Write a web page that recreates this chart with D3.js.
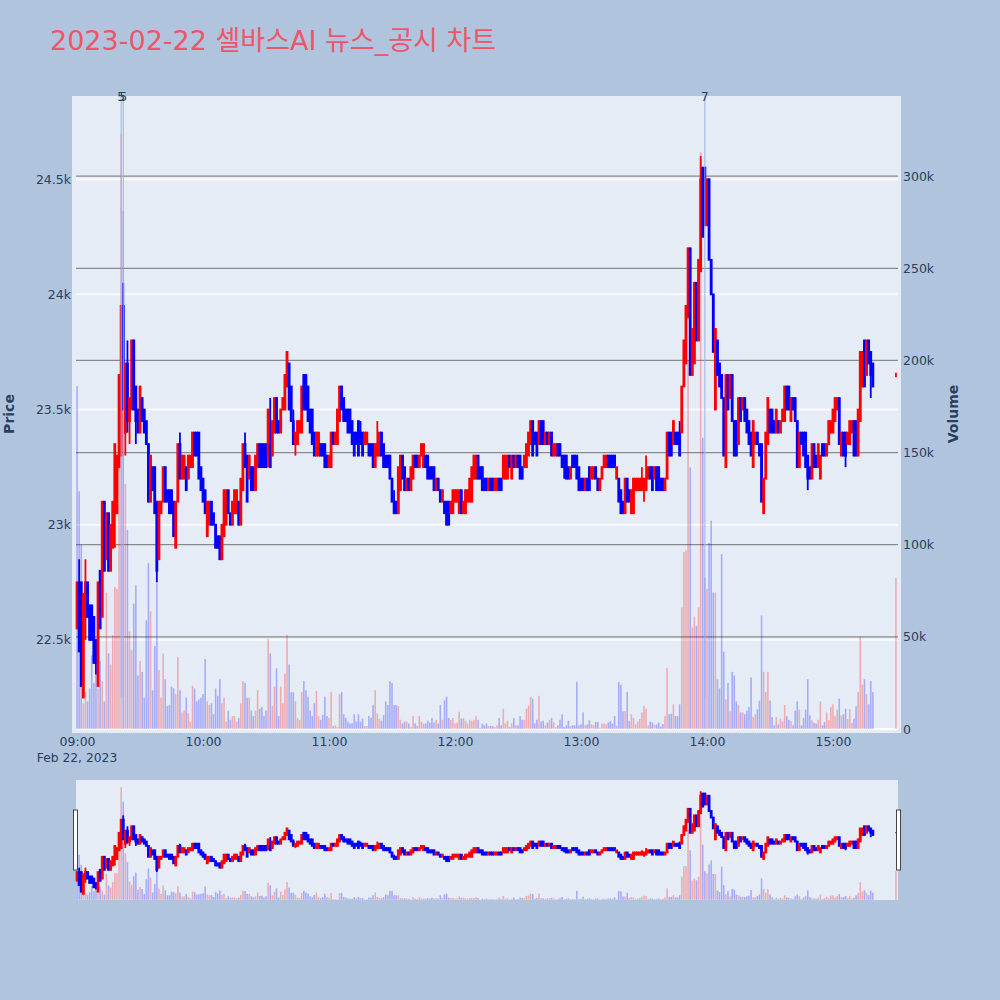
<!DOCTYPE html>
<html>
<head>
<meta charset="utf-8">
<script src="https://cdn.jsdelivr.net/npm/d3@7"></script>
<style>
  html, body { margin: 0; padding: 0; background: #B0C4DE; }
  text { font-family: "DejaVu Sans", "Noto Sans CJK KR", sans-serif; fill: #2a3f5f; }
</style>
</head>
<body>
<div id="chart"></div>
<script>
// 분봉 데이터 (09:00 ~ 15:19, 마지막은 15:30 종가)
const minutes = d3.range(380).concat([390]);

const open = [
22550,22750,22750,22250,22600,22750,22650,22650,22600,22500,
22300,22800,22600,23100,22850,23050,22800,22900,23050,23050,
23250,23300,23950,23400,23700,23450,23500,23800,23600,23500,
23400,23550,23500,23450,23350,23100,23250,23250,23100,22850,
23050,23100,23250,23150,23150,23150,23100,22900,23100,23350,
23200,23200,23250,23200,23250,23250,23400,23400,23400,23250,
23200,23150,22950,23000,23100,23050,23000,22950,22950,22850,
22950,23000,23150,23050,23000,23050,23050,23100,23000,23150,
23350,23300,23200,23250,23250,23150,23250,23350,23350,23350,
23350,23300,23350,23300,23400,23550,23450,23400,23500,23500,
23600,23700,23600,23450,23350,23350,23400,23400,23650,23650,
23600,23500,23500,23400,23300,23300,23350,23350,23350,23300,
23250,23250,23400,23350,23350,23450,23600,23550,23500,23500,
23500,23450,23400,23400,23450,23400,23400,23350,23350,23350,
23350,23350,23250,23300,23300,23400,23350,23300,23300,23300,
23200,23100,23100,23050,23150,23300,23250,23150,23200,23150,
23200,23300,23300,23250,23300,23250,23300,23300,23250,23250,
23250,23150,23200,23150,23100,23100,23100,23100,23050,23050,
23100,23100,23050,23150,23050,23050,23100,23100,23100,23200,
23200,23300,23250,23250,23200,23200,23150,23200,23200,23150,
23150,23200,23200,23200,23200,23200,23300,23200,23300,23250,
23300,23300,23250,23250,23250,23300,23350,23450,23400,23400,
23350,23450,23450,23350,23400,23350,23400,23300,23300,23350,
23350,23300,23300,23300,23250,23200,23300,23300,23300,23250,
23200,23200,23150,23200,23250,23200,23200,23250,23200,23150,
23200,23250,23250,23300,23300,23300,23300,23200,23200,23150,
23100,23050,23200,23150,23050,23050,23150,23150,23150,23150,
23150,23150,23200,23250,23250,23200,23250,23250,23200,23200,
23150,23200,23400,23400,23350,23400,23400,23400,23400,23600,
23700,23900,24200,23650,23700,24050,23800,24100,24550,24550,
24300,24500,24150,24000,23500,23800,23700,23650,23550,23250,
23650,23550,23650,23450,23450,23350,23550,23500,23550,23500,
23450,23400,23250,23350,23400,23350,23350,23050,23200,23350,
23500,23500,23450,23400,23450,23400,23450,23450,23600,23600,
23450,23550,23550,23450,23250,23400,23400,23400,23300,23250,
23200,23350,23300,23250,23200,23350,23350,23300,23350,23400,
23400,23450,23500,23550,23300,23400,23400,23350,23350,23400,
23450,23450,23300,23450,23600,23800,23650,23800,23750,23700,
23650];

const close = [
22750,22450,22300,22700,22750,22600,22500,22500,22400,22400,
22750,22550,23100,22800,23050,22800,23000,23100,23350,23300,
23650,23950,23500,23700,23450,23550,23800,23500,23450,23400,
23600,23450,23400,23350,23100,23300,23150,23050,22800,23100,
23100,23250,23100,23100,23050,23050,22950,23100,23350,23200,
23300,23300,23150,23300,23300,23400,23300,23300,23200,23150,
23100,23050,23100,23100,23000,23000,22900,22900,22850,23000,
23150,23150,23050,23000,23100,23150,23150,23000,23200,23350,
23250,23100,23300,23150,23150,23300,23350,23250,23250,23250,
23250,23500,23250,23450,23550,23400,23400,23500,23550,23650,
23750,23500,23450,23350,23400,23450,23450,23600,23500,23500,
23450,23400,23350,23300,23400,23400,23300,23300,23250,23250,
23300,23400,23350,23400,23500,23600,23500,23450,23450,23400,
23400,23350,23300,23350,23300,23350,23300,23400,23400,23300,
23300,23250,23350,23350,23400,23300,23250,23250,23250,23200,
23100,23050,23050,23250,23300,23200,23150,23200,23150,23250,
23300,23250,23250,23300,23350,23350,23250,23200,23200,23200,
23150,23200,23150,23100,23150,23050,23000,23000,23100,23150,
23150,23150,23150,23050,23100,23150,23150,23200,23250,23300,
23300,23200,23200,23150,23150,23150,23200,23150,23150,23200,
23200,23150,23150,23300,23300,23300,23250,23300,23250,23300,
23250,23200,23200,23300,23350,23400,23450,23300,23350,23300,
23450,23350,23350,23400,23350,23400,23300,23350,23350,23300,
23300,23250,23250,23200,23200,23250,23250,23250,23200,23150,
23150,23150,23200,23150,23150,23250,23250,23200,23150,23200,
23250,23300,23300,23250,23250,23250,23250,23250,23100,23050,
23050,23200,23100,23100,23150,23200,23200,23200,23200,23200,
23200,23200,23250,23200,23150,23250,23150,23150,23150,23150,
23200,23400,23300,23300,23450,23350,23350,23300,23600,23800,
23950,24200,23650,23850,24050,23800,24150,24500,24250,24300,
24500,24150,24000,23750,23850,23650,23600,23550,23300,23650,
23500,23650,23450,23300,23300,23550,23450,23550,23450,23400,
23350,23300,23450,23400,23350,23300,23100,23200,23400,23550,
23400,23400,23400,23500,23400,23450,23500,23600,23500,23500,
23550,23500,23450,23250,23400,23350,23300,23250,23200,23200,
23350,23250,23250,23350,23300,23300,23300,23350,23450,23450,
23500,23550,23550,23350,23400,23300,23300,23400,23450,23450,
23300,23300,23500,23750,23750,23600,23800,23700,23650,23600,
23650];

const high = [
22750,22850,22750,22700,22850,22750,22650,22650,22600,22500,
22750,22800,23100,23100,23050,23050,23000,23100,23350,23300,
23650,23950,24050,23700,23800,23550,23800,23800,23600,23500,
23600,23550,23500,23450,23350,23300,23250,23250,23100,23100,
23100,23250,23250,23150,23150,23150,23100,23100,23350,23400,
23300,23300,23250,23300,23300,23400,23400,23400,23400,23250,
23200,23150,23100,23100,23100,23050,23000,22950,22950,23000,
23150,23150,23150,23050,23100,23150,23150,23100,23200,23350,
23400,23300,23300,23250,23250,23300,23350,23350,23350,23350,
23350,23500,23550,23450,23550,23550,23450,23500,23550,23650,
23750,23700,23600,23500,23400,23450,23450,23600,23650,23650,
23600,23500,23500,23400,23400,23400,23350,23350,23350,23300,
23300,23400,23400,23400,23500,23600,23600,23550,23500,23500,
23500,23450,23400,23400,23450,23450,23400,23400,23400,23350,
23350,23350,23350,23450,23400,23400,23350,23300,23300,23300,
23200,23150,23100,23250,23300,23300,23250,23200,23200,23250,
23300,23300,23300,23300,23350,23350,23300,23300,23250,23250,
23250,23200,23200,23150,23150,23100,23100,23100,23100,23150,
23150,23150,23150,23150,23100,23150,23150,23200,23250,23300,
23300,23300,23250,23250,23200,23200,23200,23200,23200,23200,
23200,23200,23200,23300,23300,23300,23300,23300,23300,23300,
23300,23300,23250,23300,23350,23400,23450,23450,23400,23400,
23450,23450,23450,23400,23400,23400,23400,23350,23350,23350,
23350,23300,23300,23300,23250,23250,23300,23300,23300,23250,
23200,23200,23200,23200,23250,23250,23250,23250,23200,23200,
23250,23300,23300,23300,23300,23300,23300,23250,23200,23150,
23100,23200,23200,23150,23150,23200,23200,23200,23200,23250,
23200,23300,23250,23250,23250,23250,23250,23250,23200,23200,
23200,23400,23400,23400,23450,23400,23400,23450,23600,23800,
23950,24200,24200,23850,24050,24050,24150,24600,24550,24550,
24500,24500,24150,24000,23850,23800,23700,23650,23550,23650,
23650,23650,23650,23450,23450,23550,23550,23550,23550,23500,
23450,23400,23450,23400,23400,23350,23350,23200,23400,23550,
23500,23500,23450,23500,23450,23450,23500,23600,23600,23600,
23550,23550,23550,23450,23400,23400,23400,23400,23300,23250,
23350,23350,23300,23350,23300,23350,23350,23350,23450,23450,
23500,23550,23550,23550,23400,23400,23400,23400,23450,23450,
23450,23450,23500,23750,23750,23800,23800,23800,23750,23700,
23660];

const low = [
22550,22450,22300,22250,22500,22600,22500,22500,22400,22350,
22300,22550,22600,22800,22850,22800,22800,22900,22900,23050,
23250,23300,23500,23300,23400,23350,23500,23500,23350,23400,
23400,23450,23400,23350,23100,23100,23150,23050,22750,22850,
23050,23100,23100,23100,23050,23050,22950,22900,23100,23200,
23200,23200,23150,23200,23250,23250,23300,23300,23200,23150,
23100,23050,22950,23000,23000,23000,22900,22900,22850,22850,
22950,23000,23050,23000,23000,23050,23050,23000,23000,23150,
23250,23100,23200,23150,23150,23150,23250,23250,23250,23250,
23250,23250,23250,23300,23400,23400,23400,23400,23500,23500,
23600,23500,23450,23350,23300,23350,23400,23400,23500,23500,
23450,23400,23350,23300,23300,23300,23300,23300,23250,23250,
23250,23250,23350,23350,23350,23450,23500,23450,23450,23400,
23400,23350,23300,23350,23300,23350,23300,23350,23350,23300,
23300,23250,23250,23300,23300,23300,23250,23250,23250,23200,
23100,23050,23050,23050,23150,23200,23150,23150,23150,23150,
23200,23250,23250,23250,23300,23250,23250,23200,23200,23200,
23150,23150,23150,23100,23100,23050,23000,23000,23050,23050,
23100,23100,23050,23050,23050,23050,23100,23100,23100,23200,
23200,23200,23200,23150,23150,23150,23150,23150,23150,23150,
23150,23150,23150,23200,23200,23200,23250,23200,23250,23250,
23250,23200,23200,23250,23250,23300,23350,23300,23350,23300,
23350,23350,23350,23350,23350,23350,23300,23300,23300,23300,
23300,23250,23200,23200,23200,23200,23250,23250,23200,23150,
23150,23150,23150,23150,23150,23200,23200,23200,23150,23150,
23200,23250,23250,23250,23250,23250,23250,23200,23100,23050,
23050,23050,23100,23100,23050,23050,23150,23150,23150,23150,
23100,23150,23200,23200,23150,23200,23150,23150,23150,23150,
23150,23200,23300,23300,23350,23350,23350,23300,23400,23600,
23700,23900,23650,23650,23700,23800,23800,24100,24250,24300,
24300,24150,24000,23750,23500,23650,23600,23550,23300,23250,
23500,23550,23450,23300,23300,23350,23450,23500,23450,23400,
23350,23300,23250,23350,23350,23300,23100,23050,23200,23350,
23400,23400,23400,23400,23400,23400,23450,23450,23500,23500,
23450,23500,23450,23250,23250,23350,23300,23250,23150,23200,
23200,23250,23250,23250,23200,23300,23300,23300,23350,23400,
23400,23450,23500,23350,23300,23300,23250,23350,23350,23400,
23300,23300,23300,23450,23600,23600,23650,23700,23550,23600,
23640];

// 거래량 (단위: 천주)
const volume = [
186,129,100,14,20,15,22,40,25,30,
22,37,26,15,74,41,35,51,77,76,
150,323,281,133,108,53,43,68,78,29,
37,31,17,59,90,64,21,45,79,32,
17,41,27,12.5,13,23,22,19,39,21,
9,10,17,8.5,4,23.5,22,15,16,17,
19,38,15,13,14,8,22,18,27,14,
17,4,10,5,7,7,4,6,14,26,
25,17,17,10,7,10,21,11,12,7,
10,49,41,12.5,23,33,7,23,14,30,
51,35,20,20,15,6,5,20,26,21,
17.5,10,7,14,20.6,7,5,7.6,17.5,7,
6,20,1.6,2,1,19,20,8,6,4,
3,3,8,4,8,4,5.6,1.6,1.6,7,
6,13,21,8.5,5.6,4.5,7.6,15,13,26,
25,13,13,12.5,5,3,4,4,3,1,
7,3,1.6,7,4,3,3,4.5,3.5,6,
3.5,5,3,13,5,15.5,17.5,6,5,6,
3,3.5,9.4,5.6,6,4.5,3,5,4.5,5,
7,5,0.5,3,2,3,1.6,1.6,1.6,1,
2,6,2,11,3,4.5,1,3,6,2,
2,7,5,5,11,12.7,17.5,16.5,3,5,
18,4,4.5,2,3.5,5,6,3.6,1,2,
5,8,1,2,4.5,1.6,2,2,25.7,2,
2.5,9,2,2.5,4.7,2.5,2,3.8,3.8,0.7,
3,3,2.5,3.6,4.3,3,7,1.8,25.5,24,
9.6,9.8,20,4.3,8,6,2.5,4,5.4,9,
12.3,11,2,4,3.6,2.4,2.4,3.6,1.4,2.7,
7,33,8,8.3,13.4,7,7,13.4,66,96,
97,200,142,55,61,56,66,313,158,82,
76,101,113,74,74,27,22,95,42,16,
25,9.6,31,29,15,13,9,9,8,10,
12,28,6.5,8,10.7,15.5,61.6,31,20,31,
15.5,6.5,2,6.5,2.5,5.6,4,13,7,5,
4.3,2,10,15,10.5,2,6,10.5,27,7.4,
4.7,3.4,3,5,15,2,3.8,9,4.7,12,
13.4,7,10.5,16.5,7.4,8,11,5.4,10.7,3.3,
5.6,12.3,20,50,24,27,19,13.4,26,20,
82];

const priceTicks = [22500, 23000, 23500, 24000, 24500];
const priceTickLabels = ["22.5k", "23k", "23.5k", "24k", "24.5k"];
const volumeTicks = [0, 50, 100, 150, 200, 250, 300];
const volumeTickLabels = ["0", "50k", "100k", "150k", "200k", "250k", "300k"];
const hourTicks = [9, 10, 11, 12, 13, 14, 15];

// 공시 표시 (분, 라벨)
const noticeMinutes = [21, 22, 299];
const noticeLabels = ["5", "5", "7"];
const noticeBasePrice = 22250;

const chartTitle = "2023-02-22 셀바스AI 뉴스_공시 차트";

const toTime = m => new Date(2023, 1, 22, 9, m);
const candles = minutes.map((m, i) => ({
    time: toTime(m), o: open[i], c: close[i], h: high[i], l: low[i], v: volume[i], first: i === 0
}));

const svg = d3.select("#chart")
    .append("svg")
    .attr("width", 1000)
    .attr("height", 1000);

svg.append("rect").attr("width", 1000).attr("height", 1000).attr("fill", "#B0C4DE");

svg.append("text")
    .attr("x", 50).attr("y", 50)
    .attr("font-size", 27)
    .style("fill", "#EF5568")
    .text(chartTitle);

// x축과 y축 설정
const x = d3.scaleTime()
    .domain([new Date(2023, 1, 22, 8, 59, 30), new Date(2023, 1, 22, 15, 30, 30)])
    .range([76, 897]);
const yPrice = d3.scaleLinear().domain([22109, 24861]).range([730, 96]);
const yVolume = d3.scaleLinear().domain([0, 343.5]).range([729, 96]);
const yPriceMini = d3.scaleLinear().domain([22109, 24861]).range([900, 780]);
const yVolumeMini = d3.scaleLinear().domain([0, 343.5]).range([899.8, 780]);

svg.append("rect")
    .attr("x", 72).attr("y", 96)
    .attr("width", 829).attr("height", 637)
    .attr("fill", "#E5ECF6");

// 격자
svg.append("g").selectAll("line")
    .data(priceTicks)
    .enter().append("line")
    .attr("x1", 76).attr("x2", 898)
    .attr("y1", d => yPrice(d)).attr("y2", d => yPrice(d))
    .attr("stroke", "white").attr("stroke-width", 2).attr("stroke-opacity", 0.75);

svg.append("g").selectAll("line")
    .data(volumeTicks)
    .enter().append("line")
    .attr("x1", 76).attr("x2", 898)
    .attr("y1", d => yVolume(d)).attr("y2", d => yVolume(d))
    .attr("stroke", d => d === 0 ? "white" : "#8a8a8a")
    .attr("stroke-width", d => d === 0 ? 2 : 1.3);

function drawSeries(g, yP, yV) {
    // 거래량 막대
    g.append("g").selectAll("rect")
        .data(candles)
        .enter().append("rect")
        .attr("x", d => x(d.time) - 0.8)
        .attr("width", 1.6)
        .attr("y", d => yV(d.v))
        .attr("height", d => yV(0) - yV(d.v))
        .attr("fill", d => !d.first && d.c >= d.o ? "red" : "blue")
        .attr("opacity", 0.27);

    // 캔들
    const c = g.append("g").selectAll("g")
        .data(candles)
        .enter().append("g")
        .attr("fill", d => d.c >= d.o ? "red" : "blue")
        .attr("stroke", d => d.c >= d.o ? "red" : "blue");
    c.append("line")
        .attr("x1", d => x(d.time)).attr("x2", d => x(d.time))
        .attr("y1", d => yP(d.h)).attr("y2", d => yP(d.l))
        .attr("stroke-width", 1.8);
    c.append("rect")
        .attr("x", d => x(d.time) - 0.5)
        .attr("width", 1)
        .attr("y", d => yP(Math.max(d.o, d.c)))
        .attr("height", d => Math.abs(yP(d.o) - yP(d.c)))
        .attr("stroke-width", 1.8);
}

drawSeries(svg.append("g"), yPrice, yVolume);

// 공시 라인
svg.append("g").selectAll("line")
    .data(noticeMinutes)
    .enter().append("line")
    .attr("x1", d => x(toTime(d))).attr("x2", d => x(toTime(d)))
    .attr("y1", yPrice(noticeBasePrice)).attr("y2", 96)
    .attr("stroke", "#9fb0ea").attr("stroke-width", 1);

svg.append("g").selectAll("text")
    .data(noticeMinutes)
    .enter().append("text")
    .attr("x", d => x(toTime(d)))
    .attr("y", 101)
    .attr("text-anchor", "middle")
    .attr("font-size", 12)
    .text((d, i) => noticeLabels[i]);

// 축
function styleAxis(g) {
    g.select(".domain").remove();
    g.selectAll("line").remove();
    g.selectAll("text").attr("font-size", 12.5).attr("font-family", null);
}

svg.append("g")
    .attr("transform", "translate(72,0)")
    .call(d3.axisLeft(yPrice).tickValues(priceTicks).tickSize(0).tickPadding(1)
        .tickFormat((d, i) => priceTickLabels[i]))
    .call(styleAxis);

svg.append("g")
    .attr("transform", "translate(901,0)")
    .call(d3.axisRight(yVolume).tickValues(volumeTicks).tickSize(0).tickPadding(2)
        .tickFormat((d, i) => volumeTickLabels[i]))
    .call(styleAxis);

svg.append("g")
    .attr("transform", "translate(0,734)")
    .call(d3.axisBottom(x).tickValues(hourTicks.map(h => new Date(2023, 1, 22, h, 0))).tickSize(0).tickPadding(3)
        .tickFormat(d3.timeFormat("%H:%M")))
    .call(styleAxis);

svg.append("text").attr("x", 77).attr("y", 762)
    .attr("text-anchor", "middle").attr("font-size", 12.3)
    .text("Feb 22, 2023");

svg.append("text")
    .attr("transform", "translate(14,414) rotate(-90)")
    .attr("text-anchor", "middle").attr("font-size", 14).attr("font-weight", "bold")
    .text("Price");

svg.append("text")
    .attr("transform", "translate(958,414) rotate(-90)")
    .attr("text-anchor", "middle").attr("font-size", 14).attr("font-weight", "bold")
    .text("Volume");

// 레인지 슬라이더
svg.append("rect")
    .attr("x", 76).attr("y", 780)
    .attr("width", 822).attr("height", 120)
    .attr("fill", "#E5ECF6");

drawSeries(svg.append("g"), yPriceMini, yVolumeMini);

svg.append("g").selectAll("rect")
    .data([73.5, 896.5])
    .enter().append("rect")
    .attr("x", d => d).attr("y", 810)
    .attr("width", 4).attr("height", 60)
    .attr("fill", "white").attr("stroke", "#444").attr("stroke-width", 1);
</script>
</body>
</html>
